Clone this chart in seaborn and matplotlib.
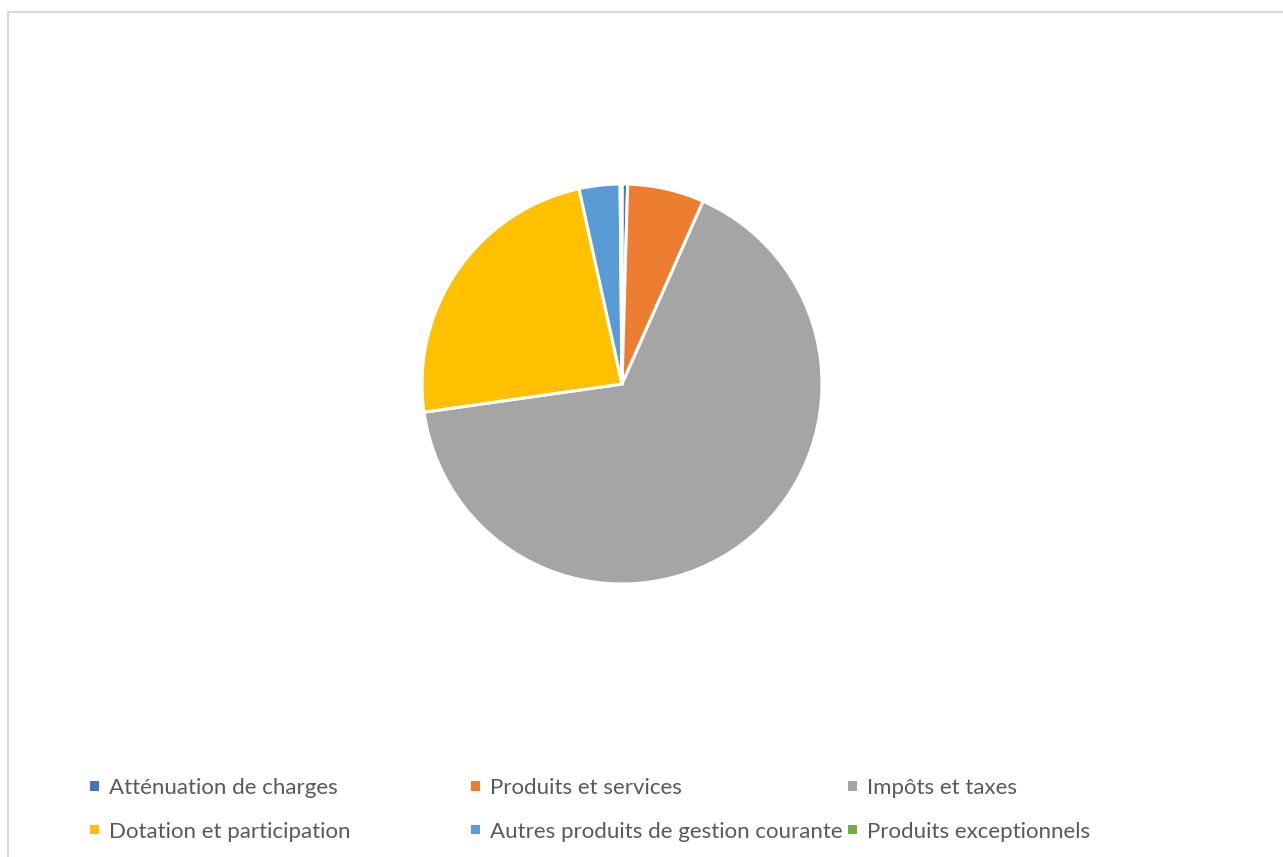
import matplotlib.pyplot as plt
import seaborn as sns
from matplotlib.patches import Rectangle, Patch

# Données (parts en %)
categories = [
    "Atténuation de charges",
    "Produits et services",
    "Impôts et taxes",
    "Dotation et participation",
    "Autres produits de gestion courante",
    "Produits exceptionnels",
]
valeurs = [0.45, 6.2, 66.1, 23.8, 3.3, 0.15]
couleurs = ["#4472C4", "#ED7D31", "#A5A5A5", "#FFC000", "#5B9BD5", "#70AD47"]

sns.set_theme(style="white")
plt.rcParams["font.family"] = ["Lato", "DejaVu Sans"]

W, H = 1283, 857
fig = plt.figure(figsize=(W / 100, H / 100), dpi=100)

# cadre gris clair du graphique
fig.patches.append(Rectangle((7.5 / W, -0.1), 1.2, (H - 11.5) / H + 0.1,
                             transform=fig.transFigure, fill=False,
                             edgecolor="#D9D9D9", linewidth=1.5))

cx, cy, r = 622, 384, 200
ax = fig.add_axes([(cx - r) / W, (H - cy - r) / H, 2 * r / W, 2 * r / H])
ax.pie(valeurs, colors=couleurs, startangle=90, counterclock=False,
       wedgeprops=dict(edgecolor="white", linewidth=2.2))
ax.set_xlim(-1, 1)
ax.set_ylim(-1, 1)
ax.set_aspect("equal")
ax.axis("off")

# légende en 3 colonnes à espacement égal
colonnes = [[0, 3], [1, 4], [2, 5]]
x_cols = [90, 471, 848]
for xc, idx in zip(x_cols, colonnes):
    handles = [Patch(facecolor=couleurs[i], edgecolor="none") for i in idx]
    labels = [categories[i] for i in idx]
    leg = fig.legend(handles, labels, loc="upper left",
                     bbox_to_anchor=(xc / W, (H - 778) / H),
                     frameon=False, fontsize=16, labelcolor="#595959",
                     handlelength=0.4, handleheight=0.25, handletextpad=0.45,
                     labelspacing=1.07, borderaxespad=0, borderpad=0)

fig.savefig("out.png", dpi=100, facecolor="white")
